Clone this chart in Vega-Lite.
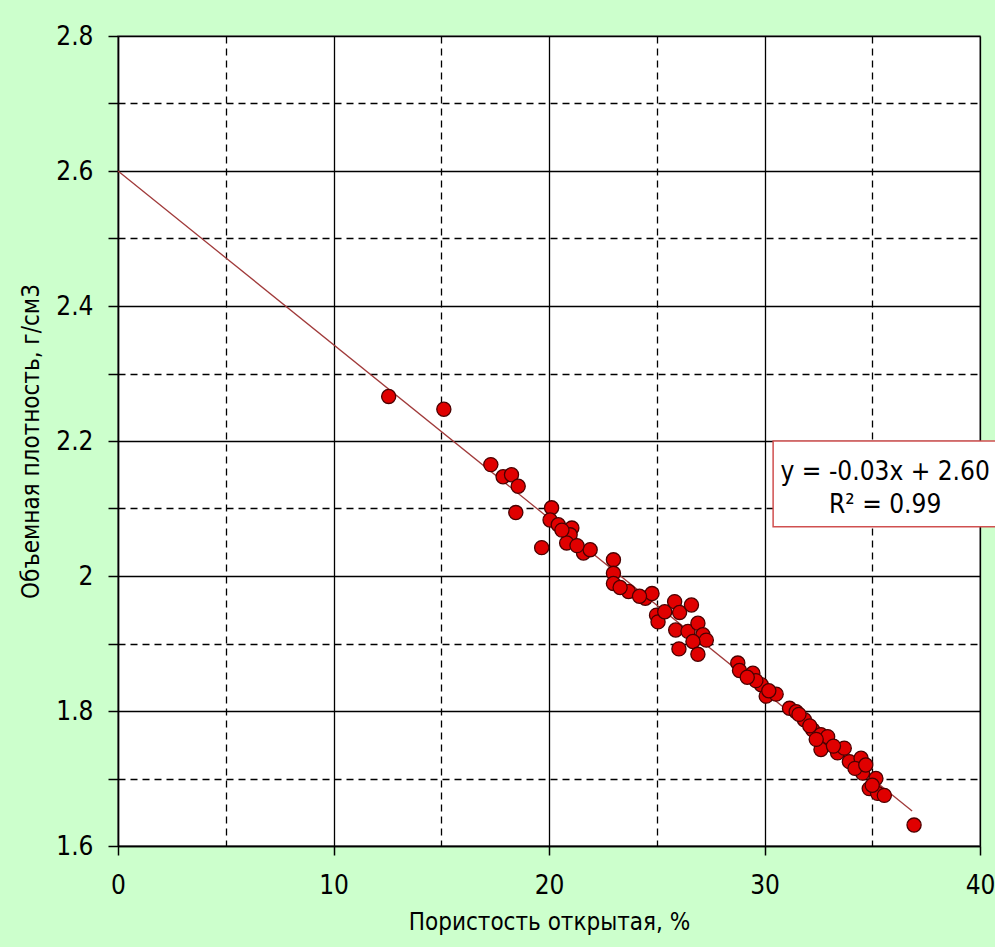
{
  "$schema": "https://vega.github.io/schema/vega-lite/v6.json",
  "width": 862,
  "height": 810,
  "autosize": {"type": "none"},
  "padding": {"left": 118, "top": 36, "right": 15, "bottom": 101},
  "background": "#CCFFCC",
  "config": {
    "view": {"fill": "white", "stroke": "#7f7f7f", "strokeWidth": 1.5},
    "font": "DejaVu Sans Condensed, Liberation Sans, sans-serif",
    "axis": {
      "labelFont": "DejaVu Sans Condensed, Liberation Sans, sans-serif",
      "titleFont": "DejaVu Sans Condensed, Liberation Sans, sans-serif",
      "labelColor": "black",
      "titleColor": "black",
      "labelFontSize": 26,
      "titleFontSize": 24,
      "titleFontWeight": "normal",
      "domainColor": "black",
      "domainWidth": 1.5,
      "tickColor": "black",
      "tickWidth": 1.5,
      "gridColor": "black",
      "gridWidth": 1.3,
      "gridOpacity": 1
    }
  },
  "datasets": {
    "pts": [
      {"p": 12.56, "d": 2.266}, {"p": 15.12, "d": 2.247}, {"p": 17.30, "d": 2.165},
      {"p": 17.87, "d": 2.147}, {"p": 18.26, "d": 2.150}, {"p": 18.57, "d": 2.133},
      {"p": 18.46, "d": 2.094}, {"p": 19.66, "d": 2.042}, {"p": 20.12, "d": 2.101},
      {"p": 20.05, "d": 2.083}, {"p": 20.43, "d": 2.076}, {"p": 21.06, "d": 2.071},
      {"p": 20.98, "d": 2.061}, {"p": 20.82, "d": 2.049}, {"p": 21.60, "d": 2.034},
      {"p": 21.91, "d": 2.039}, {"p": 22.99, "d": 2.024}, {"p": 22.99, "d": 2.004},
      {"p": 22.99, "d": 1.989}, {"p": 23.69, "d": 1.977}, {"p": 24.47, "d": 1.967},
      {"p": 24.78, "d": 1.974}, {"p": 24.99, "d": 1.942}, {"p": 25.06, "d": 1.932},
      {"p": 25.37, "d": 1.947}, {"p": 25.83, "d": 1.962}, {"p": 26.06, "d": 1.946},
      {"p": 26.61, "d": 1.957}, {"p": 25.88, "d": 1.920}, {"p": 26.45, "d": 1.918},
      {"p": 26.91, "d": 1.930}, {"p": 27.14, "d": 1.913}, {"p": 27.30, "d": 1.905},
      {"p": 26.68, "d": 1.903}, {"p": 26.03, "d": 1.892}, {"p": 26.91, "d": 1.884},
      {"p": 28.76, "d": 1.871}, {"p": 28.84, "d": 1.860}, {"p": 29.46, "d": 1.856},
      {"p": 29.85, "d": 1.839}, {"p": 30.08, "d": 1.822}, {"p": 30.54, "d": 1.825},
      {"p": 31.16, "d": 1.804}, {"p": 31.47, "d": 1.799}, {"p": 31.85, "d": 1.787},
      {"p": 32.24, "d": 1.772}, {"p": 32.62, "d": 1.765}, {"p": 32.93, "d": 1.762},
      {"p": 32.62, "d": 1.743}, {"p": 33.39, "d": 1.738}, {"p": 33.70, "d": 1.745},
      {"p": 33.94, "d": 1.725}, {"p": 34.48, "d": 1.730}, {"p": 34.55, "d": 1.708},
      {"p": 35.17, "d": 1.700}, {"p": 34.86, "d": 1.685}, {"p": 35.25, "d": 1.678},
      {"p": 35.56, "d": 1.675}, {"p": 36.94, "d": 1.631},
      {"p": 20.60, "d": 2.068}, {"p": 21.30, "d": 2.045}, {"p": 23.30, "d": 1.983},
      {"p": 29.60, "d": 1.845}, {"p": 30.20, "d": 1.830}, {"p": 31.60, "d": 1.795},
      {"p": 32.10, "d": 1.778}, {"p": 32.40, "d": 1.758}, {"p": 33.20, "d": 1.748},
      {"p": 34.20, "d": 1.715}, {"p": 34.70, "d": 1.720}, {"p": 35.00, "d": 1.690},
      {"p": 29.20, "d": 1.850}, {"p": 24.20, "d": 1.970}
    ],
    "trend": [
      {"p": 0, "d": 2.6},
      {"p": 36.85, "d": 1.652}
    ],
    "box": [
      {"p": 30.4, "p2": 42, "d": 2.2, "d2": 2.073}
    ],
    "labels": [
      {"p": 35.6, "d": 2.142, "t": "y = -0.03x + 2.60"},
      {"p": 35.6, "d": 2.093, "t": "R² = 0.99"}
    ]
  },
  "encoding": {
    "x": {
      "field": "p",
      "type": "quantitative",
      "scale": {"domain": [0, 40], "nice": false, "zero": false},
      "axis": {
        "title": "Пористость открытая, %",
        "values": [0, 5, 10, 15, 20, 25, 30, 35, 40],
        "labelExpr": "datum.value % 10 === 0 ? toString(datum.value) : ''",
        "gridDash": {"condition": {"test": "datum.value % 10 !== 0", "value": [7, 5]}, "value": []},
        "tickSize": {"condition": {"test": "datum.value % 10 !== 0", "value": 0}, "value": 9},
        "labelPadding": 17,
        "titlePadding": 12,
        "labelFlush": false
      }
    },
    "y": {
      "field": "d",
      "type": "quantitative",
      "scale": {"domain": [1.6, 2.8], "nice": false, "zero": false},
      "axis": {
        "title": "Объемная плотность, г/см3",
        "values": [1.6, 1.7, 1.8, 1.9, 2.0, 2.1, 2.2, 2.3, 2.4, 2.5, 2.6, 2.7, 2.8],
        "labelExpr": "round(datum.value * 10) % 2 === 0 ? toString(round(datum.value * 10) / 10) : ''",
        "gridDash": {"condition": {"test": "round(datum.value * 10) % 2 !== 0", "value": [7, 5]}, "value": []},
        "tickSize": 10,
        "labelPadding": 15,
        "titlePadding": 12,
        "labelFlush": false
      }
    }
  },
  "layer": [
    {
      "data": {"name": "trend"},
      "mark": {"type": "line", "color": "#A03A3A", "strokeWidth": 1.3},
      "encoding": {}
    },
    {
      "data": {"name": "pts"},
      "mark": {"type": "point", "shape": "circle", "filled": true, "fill": "#E00000", "stroke": "#4A0000", "strokeWidth": 1.3, "opacity": 1, "size": 200}
    },
    {
      "data": {"name": "box"},
      "mark": {"type": "rect", "fill": "#3A0000", "xOffset": 3, "yOffset": 4, "clip": false},
      "encoding": {"x2": {"field": "p2"}, "y2": {"field": "d2"}}
    },
    {
      "data": {"name": "box"},
      "mark": {"type": "rect", "fill": "white", "stroke": "#D05050", "strokeWidth": 1.5, "clip": false},
      "encoding": {"x2": {"field": "p2"}, "y2": {"field": "d2"}}
    },
    {
      "data": {"name": "labels"},
      "mark": {"type": "text", "font": "DejaVu Sans Condensed, Liberation Sans, sans-serif", "fontSize": 26, "color": "black", "baseline": "alphabetic", "align": "center"},
      "encoding": {"text": {"field": "t"}}
    }
  ]
}
